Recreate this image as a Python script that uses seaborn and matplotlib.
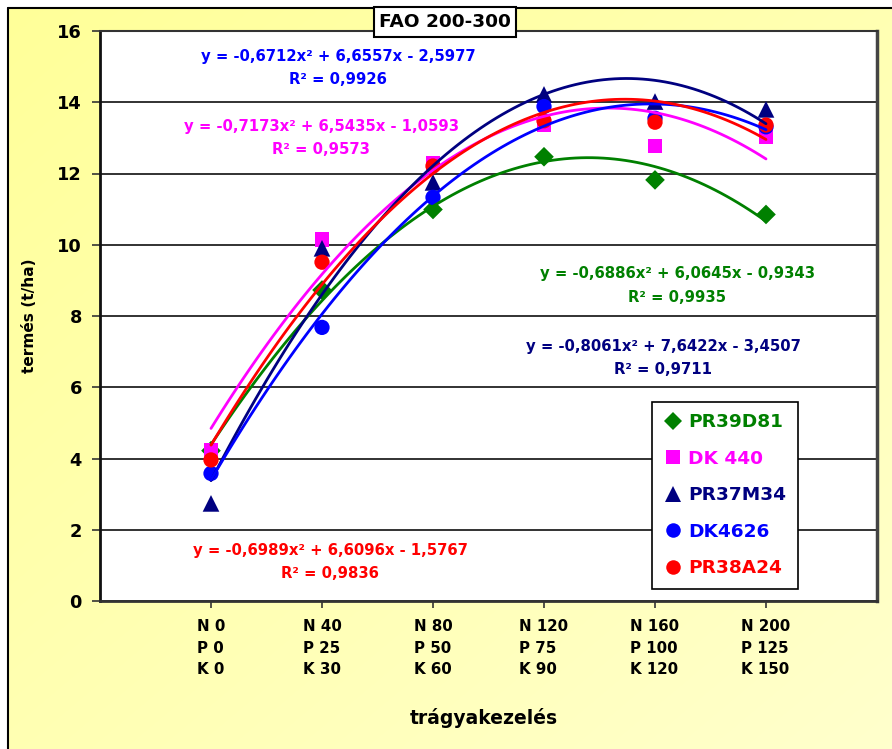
import numpy as np
import pandas as pd
import matplotlib
matplotlib.use("Agg")
import matplotlib.pyplot as plt
import seaborn as sns
from matplotlib.lines import Line2D
from matplotlib.colors import LinearSegmentedColormap

# ---------------- data ----------------
treatments = ["N 0\nP 0\nK 0", "N 40\nP 25\nK 30", "N 80\nP 50\nK 60",
              "N 120\nP 75\nK 90", "N 160\nP 100\nK 120", "N 200\nP 125\nK 150"]
hybrids = ["PR39D81", "DK 440", "PR37M34", "DK4626", "PR38A24"]
pr39d81 = [4.22, 8.73, 10.99, 12.47, 11.82, 10.85]
dk440 = [4.22, 10.15, 12.29, 13.38, 12.77, 13.02]
pr37m34 = [2.74, 9.90, 11.75, 14.22, 14.02, 13.80]
dk4626 = [3.58, 7.68, 11.33, 13.88, 13.55, 13.31]
pr38a24 = [3.96, 9.51, 12.21, 13.48, 13.44, 13.36]
equations = ["y = -0,6886x² + 6,0645x - 0,9343",
             "y = -0,7173x² + 6,5435x - 1,0593",
             "y = -0,8061x² + 7,6422x - 3,4507",
             "y = -0,6712x² + 6,6557x - 2,5977",
             "y = -0,6989x² + 6,6096x - 1,5767"]
r_squared = ["R² = 0,9935", "R² = 0,9573", "R² = 0,9711", "R² = 0,9926", "R² = 0,9836"]
title = "FAO 200-300"
x_label = "trágyakezelés"
y_label = "termés (t/ha)"

colors = ["#008000", "#FF00FF", "#000080", "#0000FF", "#FF0000"]
markers = ["D", "s", "^", "o", "o"]
msizes = [10, 10.5, 12, 11, 11]
# label positions in figure pixels (center x, y of equation line)
eq_pos = [(677, 274), (321, 126), (663, 346), (338, 57), (330, 551)]

series = [pr39d81, dk440, pr37m34, dk4626, pr38a24]
positions = np.arange(1, len(treatments) + 1)
df = pd.concat([pd.DataFrame({"hybrid": h, "x": positions, "yield": v})
                for h, v in zip(hybrids, series)], ignore_index=True)

# ---------------- style ----------------
sns.set_theme(style="white")
plt.rcParams["font.family"] = ["DejaVu Sans"]
plt.rcParams["font.weight"] = "bold"
plt.rcParams["text.color"] = "black"
plt.rcParams["xtick.color"] = "black"
plt.rcParams["ytick.color"] = "black"
plt.rcParams["axes.labelcolor"] = "black"

W, H = 892, 749
fig = plt.figure(figsize=(W / 100, H / 100), dpi=100)
fig.patch.set_facecolor("white")

# diagonal gradient background (top-left yellow -> bottom-right pale)
bg = fig.add_axes([8 / W, 0, 1 - 8 / W, 1 - 8 / H], zorder=0)
bg.set_axis_off()
cmap = LinearSegmentedColormap.from_list("yel", ["#FFFF99", "#FFFFCC"])
gx, gy = np.meshgrid(np.linspace(0, 1, 200), np.linspace(0, 1, 200))
bg.imshow((gx + gy) / 2, aspect="auto", cmap=cmap, origin="upper",
          extent=[0, 1, 0, 1], vmin=0, vmax=1, interpolation="bilinear")
fig.add_artist(Line2D([8 / W, 8 / W], [0, 1 - 8 / H], color="black", lw=1.5,
                      transform=fig.transFigure, zorder=0.5))
fig.add_artist(Line2D([8 / W, 1], [1 - 8 / H, 1 - 8 / H], color="black", lw=1.5,
                      transform=fig.transFigure, zorder=0.5))

L, R, T, B = 100, 877, 31, 601
ax = fig.add_axes([L / W, 1 - B / H, (R - L) / W, (B - T) / H], zorder=1)
ax.set_facecolor("white")

for i, h in enumerate(hybrids):
    sub = df[df["hybrid"] == h]
    sns.scatterplot(data=sub, x="x", y="yield", ax=ax, marker=markers[i],
                    color=colors[i], s=msizes[i] ** 2, edgecolor="none",
                    zorder=3, legend=False)
    sns.regplot(data=sub, x="x", y="yield", order=2, ci=None, ax=ax,
                scatter=False, truncate=True,
                line_kws=dict(color=colors[i], lw=2, zorder=4))

ax.set_xlim(0, len(treatments) + 1)
ax.set_ylim(0, 16)
ax.set_yticks(np.arange(0, 17, 2))
ax.set_xticks(positions)
ax.set_xticklabels(treatments, fontsize=10.8, fontweight="bold",
                   linespacing=1.55, multialignment="left", color="black")
ax.tick_params(axis="y", labelsize=12.8, length=6, width=1.2, color="#333333",
               labelcolor="black", direction="out", left=True, pad=7)
ax.tick_params(axis="x", length=5, width=1.2, color="#333333",
               labelcolor="black", direction="out", bottom=True, pad=8)
for lab in ax.get_yticklabels():
    lab.set_fontweight("bold")
ax.yaxis.grid(True, color="#222222", lw=1.3)
ax.set_axisbelow(True)
ax.spines["left"].set_color("#111111"); ax.spines["left"].set_linewidth(2)
ax.spines["bottom"].set_color("#333333"); ax.spines["bottom"].set_linewidth(2)
ax.spines["right"].set_color("#444444"); ax.spines["right"].set_linewidth(2.5)
ax.spines["top"].set_color("#333333"); ax.spines["top"].set_linewidth(1.5)
ax.set_xlabel(""); ax.set_ylabel("")

fig.text(30 / W, 1 - 316 / H, y_label, rotation=90, ha="center", va="center",
         fontsize=11.1, fontweight="bold", color="black")
fig.text(484 / W, 1 - 718 / H, x_label, ha="center", va="center",
         fontsize=13.5, fontweight="bold", color="black")
fig.text(445 / W, 1 - 22 / H, title, ha="center", va="center", fontsize=13.3,
         fontweight="bold", zorder=5, color="black",
         bbox=dict(boxstyle="square,pad=0.3", fc="white", ec="black", lw=1.5))

for i in range(len(hybrids)):
    cx, cy = eq_pos[i]
    fig.text(cx / W, 1 - cy / H, equations[i], ha="center", va="center",
             fontsize=10.7, fontweight="bold", color=colors[i], zorder=5)
    fig.text(cx / W, 1 - (cy + 23) / H, r_squared[i], ha="center", va="center",
             fontsize=10.7, fontweight="bold", color=colors[i], zorder=5)

handles = [Line2D([], [], ls="none", marker=markers[i], color=colors[i],
                  markersize=msizes[i] * 0.95, markeredgewidth=0)
           for i in range(len(hybrids))]
leg = fig.legend(handles, hybrids, loc="upper left",
                 bbox_to_anchor=(652 / W, 1 - 402 / H), frameon=True,
                 fancybox=False, edgecolor="black", facecolor="white",
                 framealpha=1, fontsize=13.3, labelspacing=1.0,
                 handlelength=1.0, handletextpad=0.35, borderpad=0.62,
                 borderaxespad=0)
leg.get_frame().set_linewidth(1.2)
leg.set_zorder(6)
for t, c in zip(leg.get_texts(), colors):
    t.set_color(c)
    t.set_fontweight("bold")

fig.savefig("out.png", dpi=100)
